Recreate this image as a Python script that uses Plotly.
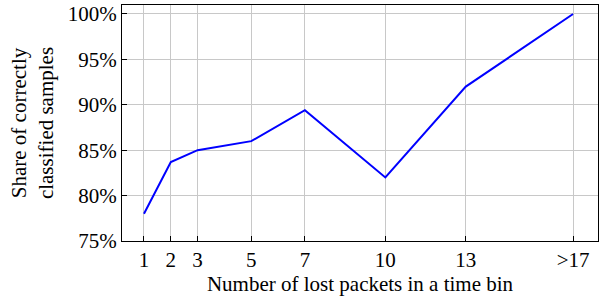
import plotly.graph_objects as go

x_pos = [1, 2, 3, 5, 7, 10, 13, 17]
x_labels = ["1", "2", "3", "5", "7", "10", "13", ">17"]
share = [78.0, 83.7, 85.0, 86.0, 89.4, 82.0, 92.0, 100.0]
y_ticks = [75, 80, 85, 90, 95, 100]
y_labels = ["75%", "80%", "85%", "90%", "95%", "100%"]

fig = go.Figure()
fig.add_trace(go.Scatter(x=x_pos, y=share, mode="lines",
                         line=dict(color="#0000ff", width=2)))

font = dict(family="Liberation Serif, Times New Roman, serif", size=21, color="black")
fig.update_layout(
    width=611, height=300,
    margin=dict(l=122, r=13, t=5, b=59, autoexpand=False),
    plot_bgcolor="white", paper_bgcolor="white",
    font=font, showlegend=False,
    xaxis=dict(range=[0.18, 17.93], tickvals=x_pos, ticktext=x_labels,
               showgrid=True, gridcolor="#c8c8c8", gridwidth=1,
               ticks="inside", ticklen=5, tickcolor="black",
               showline=True, linecolor="black", linewidth=1, mirror=True,
               zeroline=False, tickfont=dict(size=21), automargin=False,
               title=dict(text="Number of lost packets in a time bin", font=dict(size=21), standoff=4)),
    yaxis=dict(range=[75, 100.99], tickvals=y_ticks, ticktext=y_labels,
               showgrid=True, gridcolor="#c8c8c8", gridwidth=1,
               ticks="inside", ticklen=5, tickcolor="black",
               showline=True, linecolor="black", linewidth=1, mirror=True,
               zeroline=False, tickfont=dict(size=21), ticklabeloverflow="allow",
               automargin=False,
               title=dict(text="Share of correctly<br>classified samples", font=dict(size=21), standoff=8)),
)
fig.write_html("out.html", config={"displayModeBar": False},
               post_script="document.body.style.margin='0';")
